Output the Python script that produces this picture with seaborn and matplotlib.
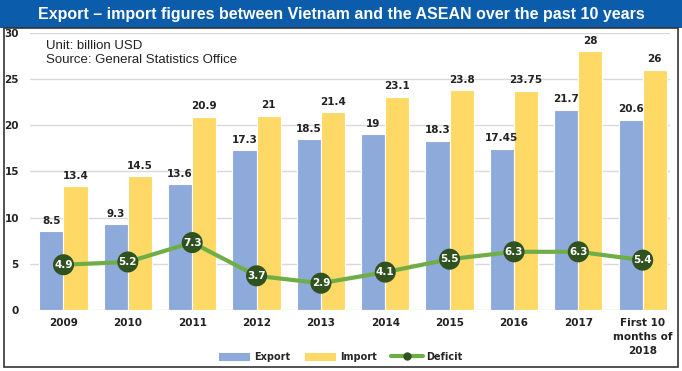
import matplotlib
matplotlib.use("Agg")
import matplotlib.pyplot as plt
import seaborn as sns
import pandas as pd
import numpy as np
from matplotlib.patches import Rectangle
from matplotlib.lines import Line2D

categories = ["2009", "2010", "2011", "2012", "2013", "2014", "2015", "2016", "2017", "First 10\nmonths of\n2018"]
export_vals = [8.5, 9.3, 13.6, 17.3, 18.5, 19, 18.3, 17.45, 21.7, 20.6]
import_vals = [13.4, 14.5, 20.9, 21, 21.4, 23.1, 23.8, 23.75, 28, 26]
deficit_vals = [4.9, 5.2, 7.3, 3.7, 2.9, 4.1, 5.5, 6.3, 6.3, 5.4]
export_labels = ["8.5", "9.3", "13.6", "17.3", "18.5", "19", "18.3", "17.45", "21.7", "20.6"]
import_labels = ["13.4", "14.5", "20.9", "21", "21.4", "23.1", "23.8", "23.75", "28", "26"]

sns.set_theme(style="white")
plt.rcParams['font.family'] = ['Liberation Sans', 'DejaVu Sans']

df = pd.DataFrame({
    "cat": categories * 2,
    "value": export_vals + import_vals,
    "series": ["Export"] * len(categories) + ["Import"] * len(categories),
})

c_exp = "#8eaadb"
c_imp = "#ffd966"
c_line = "#70ad47"
c_mark = "#2f5220"

fig = plt.figure(figsize=(6.82, 3.71), dpi=100)
ax = fig.add_axes([0.044, 0.1644, 0.938, 0.747])

sns.barplot(data=df, x="cat", y="value", hue="series", order=categories,
            palette={"Export": c_exp, "Import": c_imp}, width=0.75, ax=ax,
            legend=False, saturation=1, edgecolor="white", linewidth=0.8)

for cont, labs in zip(ax.containers, [export_labels, import_labels]):
    ax.bar_label(cont, labels=labs, padding=4, fontsize=7.5, fontweight="bold",
                 color="#222222", family="DejaVu Sans")

xs = np.arange(len(categories))
sns.lineplot(x=xs, y=deficit_vals, ax=ax, color=c_line, linewidth=3, zorder=4)
ax.scatter(xs, deficit_vals, s=230, color=c_mark, zorder=5, edgecolor="none")
for x, v in zip(xs, deficit_vals):
    ax.text(x, v, f"{v}", ha="center", va="center", color="white",
            fontsize=7.5, fontweight="bold", zorder=6, family="DejaVu Sans")

ax.set_ylim(0, 30)
ax.set_xlim(-0.52, 9.42)
ax.set_yticks(range(0, 31, 5))
ax.yaxis.grid(True, color="#d9d9d9", linewidth=1)
ax.set_axisbelow(True)
for s in ax.spines.values():
    s.set_visible(False)
ax.set_xlabel("")
ax.set_ylabel("")
ax.tick_params(axis="y", labelsize=7.5, pad=8, length=0)
ax.tick_params(axis="x", labelsize=7.5, pad=6, length=0)
for lab in ax.get_yticklabels() + ax.get_xticklabels():
    lab.set_fontweight("bold")
    lab.set_family("DejaVu Sans")
    lab.set_color("#222222")
for lab in ax.get_xticklabels():
    lab.set_linespacing(1.5)
    lab.set_verticalalignment("top")

ax.text(0.025, 0.975, "Unit: billion USD\nSource: General Statistics Office",
        transform=ax.transAxes, ha="left", va="top", fontsize=9.5,
        color="#222222", linespacing=1.3)

# title bar
fig.patches.append(Rectangle((0, 1 - 28 / 371), 1, 28 / 371, transform=fig.transFigure,
                             facecolor="#0b5cab", edgecolor="none", zorder=0))
fig.text(0.5, 1 - 14 / 371, "Export \u2013 import figures between Vietnam and the ASEAN over the past 10 years",
         ha="center", va="center", color="white", fontsize=11.5, fontweight="bold")
# frame
fig.patches.append(Rectangle((4 / 682, 1 - 367 / 371), 674 / 682, (367 - 28) / 371,
                             transform=fig.transFigure, facecolor="none",
                             edgecolor="#333333", linewidth=1.2, zorder=0))

handles = [
    Rectangle((0, 0), 1, 1, facecolor=c_exp, edgecolor="none"),
    Rectangle((0, 0), 1, 1, facecolor=c_imp, edgecolor="none"),
    Line2D([0], [0], color=c_line, linewidth=3, marker="o", markersize=5,
           markerfacecolor=c_mark, markeredgecolor=c_mark),
]
leg = fig.legend(handles, ["Export", "Import", "Deficit"], loc="center",
                 bbox_to_anchor=(0.5, 1 - 357 / 371), ncol=3, frameon=False,
                 prop={"family": "DejaVu Sans", "weight": "bold", "size": 7},
                 handlelength=3.2, handleheight=0.9, columnspacing=1.5, handletextpad=0.4)

fig.savefig("out.png", dpi=100)
